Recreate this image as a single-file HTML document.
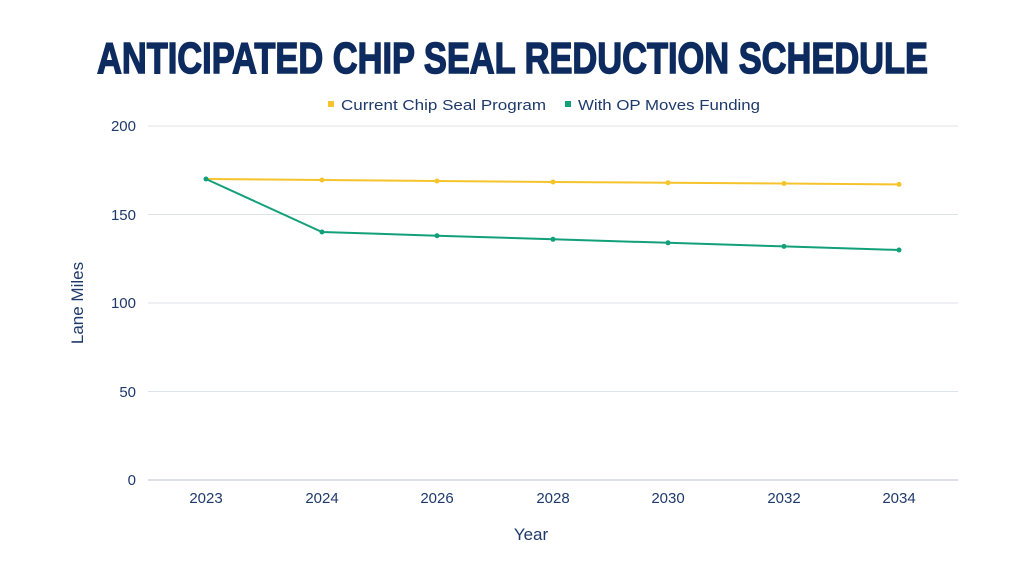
<!DOCTYPE html>
<html><head><meta charset="utf-8"><style>html,body{margin:0;padding:0;background:#fff}</style></head>
<body>
<svg width="1024" height="576" xmlns="http://www.w3.org/2000/svg" font-family="Liberation Sans, sans-serif">
<rect width="1024" height="576" fill="#fff"/>
<text x="97" y="73" font-size="44" font-weight="bold" fill="#0d2b5e" textLength="831" lengthAdjust="spacingAndGlyphs" stroke="#0d2b5e" stroke-width="1.5">ANTICIPATED CHIP SEAL REDUCTION SCHEDULE</text>
<rect x="328" y="101" width="6" height="6" fill="#f5c42c"/>
<text x="341" y="110" font-size="15" fill="#1e3a6b" textLength="205" lengthAdjust="spacingAndGlyphs">Current Chip Seal Program</text>
<rect x="565" y="101" width="6" height="6" fill="#12a07a"/>
<text x="578" y="110" font-size="15" fill="#1e3a6b" textLength="182" lengthAdjust="spacingAndGlyphs">With OP Moves Funding</text>
<g stroke="#dde2ea" stroke-width="1">
<line x1="148" y1="126" x2="958" y2="126"/><line x1="148" y1="214.5" x2="958" y2="214.5"/><line x1="148" y1="303" x2="958" y2="303"/><line x1="148" y1="391.5" x2="958" y2="391.5"/>
</g>
<line x1="148" y1="480" x2="958" y2="480" stroke="#b8c0cc"/>
<g font-size="15" fill="#1e3a6b" text-anchor="end">
<text x="136" y="131">200</text><text x="136" y="220">150</text><text x="136" y="308">100</text><text x="136" y="397">50</text><text x="136" y="485">0</text>
</g>
<g font-size="15" fill="#1e3a6b" text-anchor="middle">
<text x="206" y="503">2023</text><text x="322" y="503">2024</text><text x="437" y="503">2026</text><text x="553" y="503">2028</text><text x="668" y="503">2030</text><text x="784" y="503">2032</text><text x="899" y="503">2034</text>
<text x="531" y="540" font-size="17">Year</text>
<text transform="translate(83,303) rotate(-90)" font-size="17">Lane Miles</text>
</g>
<polyline fill="none" stroke="#f5c42c" stroke-width="2" points="206,179 322,180 437,181 553,182 668,182.7 784,183.5 899,184.4"/>
<g fill="#f5c42c"><circle cx="322" cy="180" r="2.5"/><circle cx="437" cy="181" r="2.5"/><circle cx="553" cy="182" r="2.5"/><circle cx="668" cy="182.7" r="2.5"/><circle cx="784" cy="183.5" r="2.5"/><circle cx="899" cy="184.4" r="2.5"/></g>
<polyline fill="none" stroke="#12a07a" stroke-width="2" points="206,179 322,232 437,235.7 553,239.3 668,242.8 784,246.4 899,250"/>
<g fill="#12a07a"><circle cx="206" cy="179" r="2.5"/><circle cx="322" cy="232" r="2.5"/><circle cx="437" cy="235.7" r="2.5"/><circle cx="553" cy="239.3" r="2.5"/><circle cx="668" cy="242.8" r="2.5"/><circle cx="784" cy="246.4" r="2.5"/><circle cx="899" cy="250" r="2.5"/></g>
</svg>
</body></html>
